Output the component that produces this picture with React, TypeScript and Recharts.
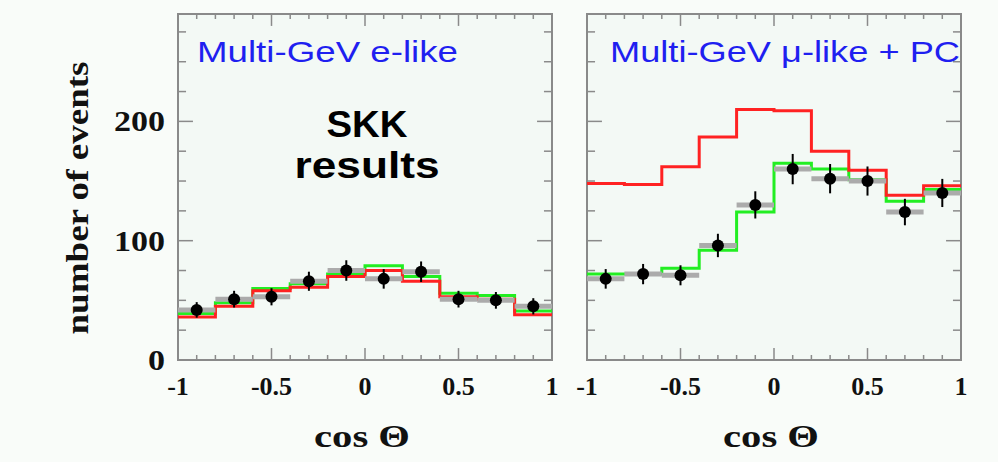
import { ComposedChart, Line, Scatter, ErrorBar, XAxis, YAxis, ReferenceArea, ReferenceLine } from 'recharts'

// bins in cos(theta), 10 bins of width 0.2
const binEdges = [-1, -0.8, -0.6, -0.4, -0.2, 0, 0.2, 0.4, 0.6, 0.8, 1]
const binCenters = [-0.9, -0.7, -0.5, -0.3, -0.1, 0.1, 0.3, 0.5, 0.7, 0.9]
const binHalfWidth = 0.1

// Multi-GeV e-like
const eLikeCounts = [42, 51, 53, 66, 75, 68, 74, 51, 50, 45]
const eLikeErrors = [6.5, 7, 7.2, 8, 8.6, 8.2, 8.6, 7, 7, 6.8]
const eLikeNoOsc = [36, 45, 58, 61, 70, 75, 66, 53, 51, 38]
const eLikeOsc = [39, 48, 60, 64, 72, 79, 70, 56, 54, 41]

// Multi-GeV mu-like + PC
const muLikeCounts = [68, 72, 71, 96, 130, 160, 152, 150, 124, 140]
const muLikeErrors = [8.2, 8.5, 8.4, 9.8, 11.4, 12.7, 12.3, 12.2, 11.1, 11.8]
const muLikeNoOsc = [148, 147, 162, 187, 210, 209, 175, 159, 138, 146]
const muLikeOsc = [72, 72, 77, 92, 124, 165, 160, 151, 133, 143]

const xTicks = [-1, -0.9, -0.8, -0.7, -0.6, -0.5, -0.4, -0.3, -0.2, -0.1, 0, 0.1, 0.2, 0.3, 0.4, 0.5, 0.6, 0.7, 0.8, 0.9, 1]
const xLabels = [-1, -0.5, 0, 0.5, 1]
const yTicks = [0, 25, 50, 75, 100, 125, 150, 175, 200, 225, 250, 275]
const yLabels = [0, 100, 200]
const Y_MAX = 290

const CHART_W = 570
const CHART_H = 462
const PLOT_LEFT = 178
const PLOT_RIGHT = 552
const PLOT_TOP = 14
const PLOT_BOTTOM = 360
const FRAME = '#8a8a8a'
const SERIF = '"Liberation Serif", "DejaVu Serif", serif'
const SANS = '"Liberation Sans", Arial, sans-serif'

// tick lengths in axis units (x ticks measured along y, y ticks along x)
const X_TICK_MAJOR = 10
const X_TICK_MINOR = 4.2
const Y_TICK_MAJOR = 0.08
const Y_TICK_MINOR = 0.043

const stepRows = (vals: number[]) =>
  binEdges.map((x, i) => ({ x, y: vals[Math.min(i, vals.length - 1)] }))

const pointRows = (vals: number[], errs: number[]) =>
  binCenters.map((x, i) => ({ x, y: vals[i], err: errs[i], xerr: binHalfWidth }))

const XTickLabel = (props: any) => {
  const { x, payload } = props
  if (!xLabels.includes(payload.value)) return <g />
  return (
    <text x={x} y={PLOT_BOTTOM + 35} textAnchor="middle" fontFamily={SERIF} fontWeight="bold" fontSize={26} fill="#111">
      {payload.value}
    </text>
  )
}

const makeYTickLabel = (showLabels: boolean) => (props: any) => {
  const { y, payload } = props
  if (!showLabels || !yLabels.includes(payload.value)) return <g />
  const label = String(payload.value)
  return (
    <text x={165} y={y + 10} textAnchor="end" fontFamily={SERIF} fontWeight="bold" fontSize={29} fill="#111"
      textLength={17 * label.length} lengthAdjust="spacingAndGlyphs">
      {label}
    </text>
  )
}

const Dot = (props: any) => <circle cx={props.cx} cy={props.cy} r={6} fill="#000" />

// inward tick marks on all four edges of the frame
const frameTicks = () => {
  const out: any[] = []
  xTicks.forEach((v, i) => {
    const len = xLabels.includes(v) ? X_TICK_MAJOR : X_TICK_MINOR
    out.push(<ReferenceLine key={`xb${i}`} segment={[{ x: v, y: 0 }, { x: v, y: len }]} stroke={FRAME} strokeWidth={1.5} ifOverflow="visible" />)
    out.push(<ReferenceLine key={`xt${i}`} segment={[{ x: v, y: Y_MAX }, { x: v, y: Y_MAX - len }]} stroke={FRAME} strokeWidth={1.5} ifOverflow="visible" />)
  })
  yTicks.forEach((v, i) => {
    const len = yLabels.includes(v) ? Y_TICK_MAJOR : Y_TICK_MINOR
    out.push(<ReferenceLine key={`yl${i}`} segment={[{ x: -1, y: v }, { x: -1 + len, y: v }]} stroke={FRAME} strokeWidth={1.5} ifOverflow="visible" />)
    out.push(<ReferenceLine key={`yr${i}`} segment={[{ x: 1, y: v }, { x: 1 - len, y: v }]} stroke={FRAME} strokeWidth={1.5} ifOverflow="visible" />)
  })
  return out
}

interface PanelProps {
  left: number
  counts: number[]
  errors: number[]
  noOsc: number[]
  osc: number[]
  showYLabels: boolean
}

function Panel({ left, counts, errors, noOsc, osc, showYLabels }: PanelProps) {
  return (
    <div style={{ position: 'absolute', left, top: 0 }}>
      <ComposedChart width={CHART_W} height={CHART_H} margin={{ top: PLOT_TOP, right: CHART_W - PLOT_RIGHT, bottom: 42, left: PLOT_LEFT - 60 }}>
        <XAxis type="number" dataKey="x" domain={[-1, 1]} ticks={xTicks} tick={XTickLabel} tickLine={false} axisLine={false} height={60} interval={0} allowDataOverflow />
        <YAxis type="number" domain={[0, Y_MAX]} ticks={yTicks} tick={makeYTickLabel(showYLabels)} tickLine={false} axisLine={false} width={60} interval={0} allowDataOverflow />
        <ReferenceArea x1={-1} x2={1} y1={0} y2={Y_MAX} fill="#f3f9f5" fillOpacity={1} stroke={FRAME} strokeWidth={2} />
        {frameTicks()}
        <Line data={stepRows(osc)} dataKey="y" type="stepAfter" stroke="#22ee22" strokeWidth={3} dot={false} isAnimationActive={false} />
        <Line data={stepRows(noOsc)} dataKey="y" type="stepAfter" stroke="#ff2222" strokeWidth={3} dot={false} isAnimationActive={false} />
        <Scatter data={pointRows(counts, errors)} dataKey="y" fill="#000" shape={Dot} isAnimationActive={false}>
          <ErrorBar dataKey="xerr" direction="x" stroke="#ababab" strokeWidth={5} width={0} />
          <ErrorBar dataKey="err" direction="y" stroke="#000" strokeWidth={2} width={0} />
        </Scatter>
      </ComposedChart>
    </div>
  )
}

export default function App() {
  return (
    <div style={{ position: 'absolute', left: 0, top: 0, width: 998, height: 462, background: '#f9fcf9', overflow: 'hidden' }}>
      <Panel left={0} counts={eLikeCounts} errors={eLikeErrors} noOsc={eLikeNoOsc} osc={eLikeOsc} showYLabels />
      <Panel left={409} counts={muLikeCounts} errors={muLikeErrors} noOsc={muLikeNoOsc} osc={muLikeOsc} showYLabels={false} />
      {/* panel titles, axis titles and the annotation */}
      <svg width={998} height={462} style={{ position: 'absolute', left: 0, top: 0, pointerEvents: 'none' }}>
        <text x={197} y={62} fontFamily={SANS} fontSize={30} fill="#1f1ff0" textLength={261} lengthAdjust="spacingAndGlyphs">
          Multi-GeV e-like
        </text>
        <text x={610} y={62} fontFamily={SANS} fontSize={30} fill="#1f1ff0" textLength={350} lengthAdjust="spacingAndGlyphs">
          Multi-GeV μ-like + PC
        </text>
        <text x={367} y={137} textAnchor="middle" fontFamily={SANS} fontWeight="bold" fontSize={37} fill="#000" textLength={81} lengthAdjust="spacingAndGlyphs">
          SKK
        </text>
        <text x={367} y={178} textAnchor="middle" fontFamily={SANS} fontWeight="bold" fontSize={37} fill="#000" textLength={145} lengthAdjust="spacingAndGlyphs">
          results
        </text>
        <text x={362} y={447} textAnchor="middle" fontFamily={SERIF} fontWeight="bold" fontSize={32} fill="#111" textLength={96} lengthAdjust="spacingAndGlyphs">
          cos Θ
        </text>
        <text x={771} y={447} textAnchor="middle" fontFamily={SERIF} fontWeight="bold" fontSize={32} fill="#111" textLength={96} lengthAdjust="spacingAndGlyphs">
          cos Θ
        </text>
        <text x={88} y={198} transform="rotate(-90 88 198)" textAnchor="middle" fontFamily={SERIF} fontWeight="bold" fontSize={31} fill="#111" textLength={273} lengthAdjust="spacingAndGlyphs">
          number of events
        </text>
      </svg>
    </div>
  )
}
